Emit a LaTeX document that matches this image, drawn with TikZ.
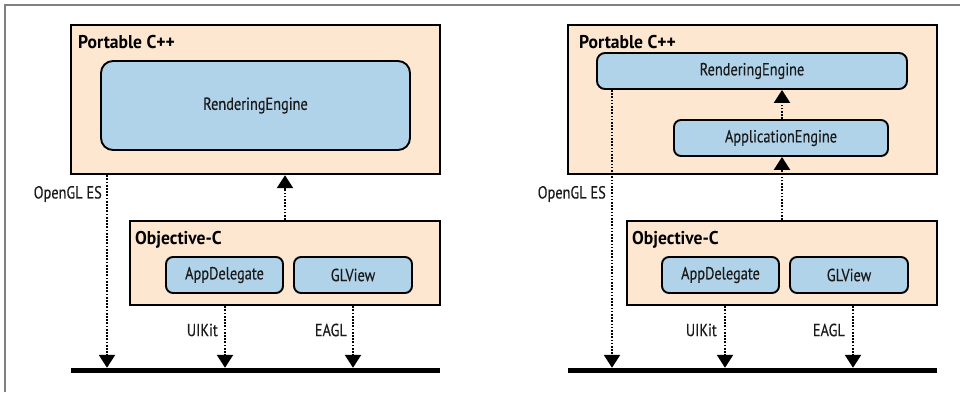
\documentclass[tikz,border=0pt]{standalone}
\usepackage{fontspec}
\setmainfont{PT Sans}[FakeStretch=0.82,FakeBold=0.35]
\newfontfamily\headfont{PT Sans}[FakeStretch=0.95]
\usetikzlibrary{arrows.meta}
\definecolor{peach}{HTML}{FDE7D0}
\definecolor{paleblue}{HTML}{B0D3EA}
\definecolor{framegrey}{HTML}{808080}
\definecolor{ink}{HTML}{1A1A1A}
\begin{document}
\begin{tikzpicture}[x=1pt,y=-1pt,
  layer/.style={draw=black,line width=2.4pt,fill=peach,rectangle,inner sep=0pt},
  comp/.style={draw=black,line width=1.9pt,fill=paleblue,rectangle,rounded corners=7pt,
               inner sep=0pt,font=\fontsize{17.5}{19}\selectfont,text=ink},
  title/.style={font=\headfont\fontsize{18.5}{20}\selectfont\bfseries,anchor=base west,inner sep=0pt},
  lbl/.style={font=\fontsize{17.5}{19}\selectfont,text=ink,anchor=east,inner sep=0pt},
  bar/.style={fill=black,rectangle,inner sep=0pt,minimum height=5pt},
  dep/.style={line width=2.3pt,dash pattern=on 1.7pt off 1.5pt,
              -{Triangle[width=16pt,length=13pt]}}]
\useasboundingbox (0,0) rectangle (960,392);

% page frame
\draw[framegrey,line width=2pt] (5,392) -- (5,5) -- (960,5);

% ---- left: single engine ----
\node[layer,minimum width=369pt,minimum height=149pt] (pcL) at (255.5,99.5) {};
\node[title] (pcLt) at (78,48) {Portable C++};
\node[comp,rounded corners=12pt,minimum width=309pt,minimum height=89pt] (reL) at (255.5,105.5) {RenderingEngine};
\node[layer,minimum width=310pt,minimum height=84pt] (ocL) at (285,263) {};
\node[title] (ocLt) at (135,244) {Objective-C};
\node[comp,minimum width=117pt,minimum height=36pt] (adL) at (224.5,275) {AppDelegate};
\node[comp,minimum width=118pt,minimum height=36pt] (gvL) at (353,275) {GLView};
\node[bar,minimum width=369pt] (barL) at (255.5,370.5) {};

\coordinate (glL) at (107,0);
\coordinate (uiL) at (225,0);
\coordinate (eaL) at (353,0);
\draw[dep] (ocL.north) -- (ocL.north |- pcL.south);
\draw[dep] (glL |- pcL.south) -- (glL |- barL.north);
\draw[dep] (uiL |- ocL.south) -- (uiL |- barL.north);
\draw[dep] (eaL |- ocL.south) -- (eaL |- barL.north);
\node[lbl] (glLl) at (102,194) {OpenGL ES};
\node[lbl] (uiLl) at (218,330) {UIKit};
\node[lbl] (eaLl) at (347,330) {EAGL};

% ---- right: application engine on top of rendering engine ----
\node[layer,minimum width=369pt,minimum height=149pt] (pcR) at (752.5,99.5) {};
\node[title] (pcRt) at (579,48) {Portable C++};
\node[comp,rounded corners=8pt,minimum width=310pt,minimum height=36pt] (reR) at (752,71) {RenderingEngine};
\node[comp,minimum width=214pt,minimum height=36pt] (aeR) at (781,138) {ApplicationEngine};
\node[layer,minimum width=310pt,minimum height=84pt] (ocR) at (782,263) {};
\node[title] (ocRt) at (632,244) {Objective-C};
\node[comp,minimum width=117pt,minimum height=36pt] (adR) at (720.5,275) {AppDelegate};
\node[comp,minimum width=118pt,minimum height=36pt] (gvR) at (849,275) {GLView};
\node[bar,minimum width=369pt] (barR) at (752.5,370.5) {};

\coordinate (glR) at (612,0);
\coordinate (uiR) at (725,0);
\coordinate (eaR) at (853,0);
\draw[dep] (aeR.north -| ocR.north) -- (ocR.north |- reR.south);
\draw[dep] (ocR.north) -- (ocR.north |- aeR.south);
\draw[dep] (glR |- reR.south) -- (glR |- barR.north);
\draw[dep] (uiR |- ocR.south) -- (uiR |- barR.north);
\draw[dep] (eaR |- ocR.south) -- (eaR |- barR.north);
\node[lbl] (glRl) at (606,194) {OpenGL ES};
\node[lbl] (uiRl) at (717,330) {UIKit};
\node[lbl] (eaRl) at (845,330) {EAGL};
\end{tikzpicture}
\end{document}
